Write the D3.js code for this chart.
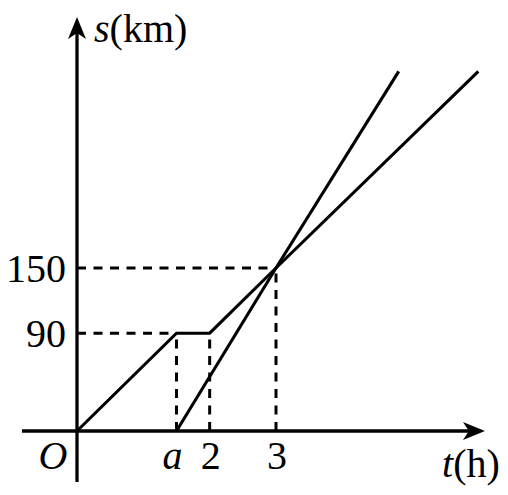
<!DOCTYPE html>
<html><head><meta charset="utf-8">
<script src="https://cdn.jsdelivr.net/npm/d3@7"></script>
<style>html,body{margin:0;padding:0;background:#fff;}svg{display:block;}</style>
</head><body>
<svg id="c" width="508" height="495"></svg>
<script>
// data
const seriesA = [[0,0],[1.5,90],[2,90],[3,150],[6.05,331]];   // first vehicle
const seriesB = [[1.5,0],[3,150],[4.85,331]];                 // second vehicle
const xTicks = [{v:1.5,label:"a",italic:true},{v:2,label:"2"},{v:3,label:"3"}];
const yTicks = [{v:90,label:"90"},{v:150,label:"150"}];
const guideX = [1.5, 2, 3];  // vertical dashed guides
const guideY = [{t:1.5,s:90},{t:3,s:150}];
const xExtent = [-0.83, 6.15];
const yExtent = [-47, 381];

const svg = d3.select("#c");
const x = d3.scaleLinear().domain([0,3]).range([77,276]);
const y = d3.scaleLinear().domain([0,150]).range([431,268]);
const font = "'Liberation Serif','Times New Roman',serif";

// guides
const dash = "9,7.5";
guideY.forEach(g=>{
  svg.append("line").attr("x1",x(0)).attr("x2",x(g.t)).attr("y1",y(g.s)).attr("y2",y(g.s))
    .attr("stroke","#000").attr("stroke-width",3).attr("stroke-dasharray",dash);
});
const vtop = {1.5:90,2:90,3:150};
guideX.forEach(t=>{
  svg.append("line").attr("x1",x(t)).attr("x2",x(t)).attr("y1",y(0)).attr("y2",y(vtop[t]))
    .attr("stroke","#000").attr("stroke-width",3).attr("stroke-dasharray",dash);
});

// axes
svg.append("line").attr("x1",x(xExtent[0])).attr("x2",x(xExtent[1])-10).attr("y1",y(0)).attr("y2",y(0))
  .attr("stroke","#000").attr("stroke-width",3.3);
svg.append("line").attr("x1",x(0)).attr("x2",x(0)).attr("y1",y(yExtent[0])).attr("y2",y(yExtent[1])+10)
  .attr("stroke","#000").attr("stroke-width",3.3);
// arrowheads
const xt = x(xExtent[1]), yt = y(0);
svg.append("path").attr("d",`M${xt},${yt} L${xt-22},${yt-9} L${xt-16},${yt} L${xt-22},${yt+9} Z`).attr("fill","#000");
const ax = x(0), ay = y(yExtent[1]);
svg.append("path").attr("d",`M${ax},${ay} L${ax-9},${ay+22} L${ax},${ay+16} L${ax+9},${ay+22} Z`).attr("fill","#000");

// lines
const line = d3.line().x(d=>x(d[0])).y(d=>y(d[1]));
[seriesA, seriesB].forEach(s=>{
  svg.append("path").attr("d",line(s)).attr("fill","none").attr("stroke","#000")
    .attr("stroke-width",3.1).attr("stroke-linejoin","miter");
});

// labels
const fs = 40;
yTicks.forEach(t=>{
  svg.append("text").attr("x",66).attr("y",y(t.v)+14).attr("text-anchor","end")
    .attr("font-family",font).attr("font-size",fs).text(t.label);
});
xTicks.forEach(t=>{
  svg.append("text").attr("x",x(t.v)+(t.italic?-4:1)).attr("y",469).attr("text-anchor","middle")
    .attr("font-family",font).attr("font-size",fs).attr("font-style",t.italic?"italic":"normal").text(t.label);
});
svg.append("text").attr("x",53).attr("y",469).attr("text-anchor","middle")
  .attr("font-family",font).attr("font-size",fs).attr("font-style","italic").text("O");
const sl = svg.append("text").attr("x",94).attr("y",42).attr("font-family",font).attr("font-size",fs);
sl.append("tspan").attr("font-style","italic").text("s");
sl.append("tspan").text("(km)");
const tl = svg.append("text").attr("x",442).attr("y",477).attr("font-family",font).attr("font-size",fs);
tl.append("tspan").attr("font-style","italic").text("t");
tl.append("tspan").text("(h)");
</script>
</body></html>
